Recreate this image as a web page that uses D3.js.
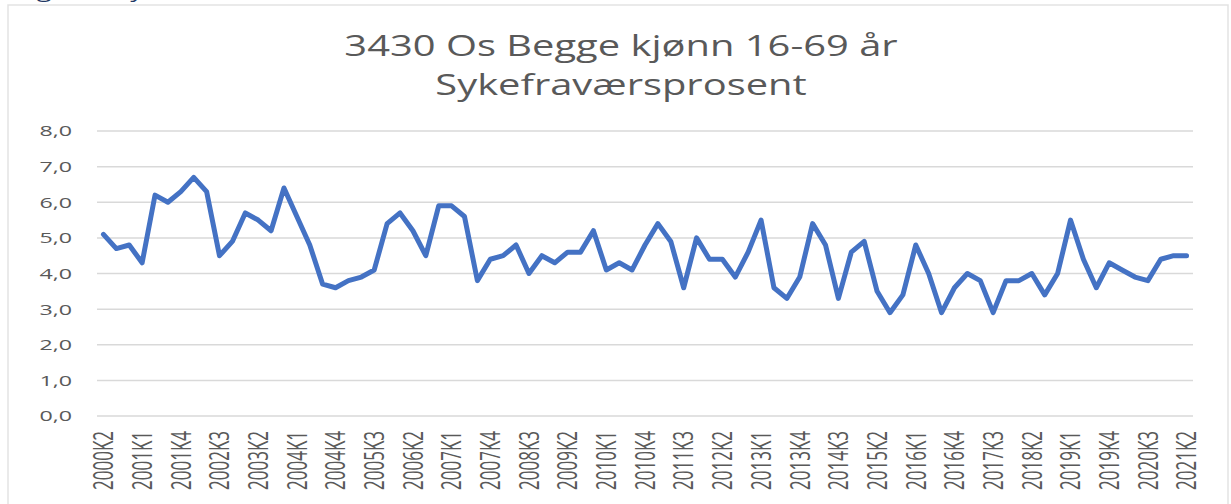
<!DOCTYPE html>
<html>
<head>
<meta charset="utf-8">
<script src="https://cdn.jsdelivr.net/npm/d3@7"></script>
<style>
  body { margin: 0; background: #fff; }
  svg { display: block; font-family: "Open Sans", sans-serif; }
</style>
</head>
<body>
<div id="chart"></div>
<script>
const quarters = [
    "2000K2", "2000K3", "2000K4",
    "2001K1", "2001K2", "2001K3", "2001K4",
    "2002K1", "2002K2", "2002K3", "2002K4",
    "2003K1", "2003K2", "2003K3", "2003K4",
    "2004K1", "2004K2", "2004K3", "2004K4",
    "2005K1", "2005K2", "2005K3", "2005K4",
    "2006K1", "2006K2", "2006K3", "2006K4",
    "2007K1", "2007K2", "2007K3", "2007K4",
    "2008K1", "2008K2", "2008K3", "2008K4",
    "2009K1", "2009K2", "2009K3", "2009K4",
    "2010K1", "2010K2", "2010K3", "2010K4",
    "2011K1", "2011K2", "2011K3", "2011K4",
    "2012K1", "2012K2", "2012K3", "2012K4",
    "2013K1", "2013K2", "2013K3", "2013K4",
    "2014K1", "2014K2", "2014K3", "2014K4",
    "2015K1", "2015K2", "2015K3", "2015K4",
    "2016K1", "2016K2", "2016K3", "2016K4",
    "2017K1", "2017K2", "2017K3", "2017K4",
    "2018K1", "2018K2", "2018K3", "2018K4",
    "2019K1", "2019K2", "2019K3", "2019K4",
    "2020K1", "2020K2", "2020K3", "2020K4",
    "2021K1", "2021K2"
];

// sykefraværsprosent per kvartal
const sickLeave = [
    5.1, 4.7, 4.8,
    4.3, 6.2, 6.0, 6.3,
    6.7, 6.3, 4.5, 4.9,
    5.7, 5.5, 5.2, 6.4,
    5.6, 4.8, 3.7, 3.6,
    3.8, 3.9, 4.1, 5.4,
    5.7, 5.2, 4.5, 5.9,
    5.9, 5.6, 3.8, 4.4,
    4.5, 4.8, 4.0, 4.5,
    4.3, 4.6, 4.6, 5.2,
    4.1, 4.3, 4.1, 4.8,
    5.4, 4.9, 3.6, 5.0,
    4.4, 4.4, 3.9, 4.6,
    5.5, 3.6, 3.3, 3.9,
    5.4, 4.8, 3.3, 4.6,
    4.9, 3.5, 2.9, 3.4,
    4.8, 4.0, 2.9, 3.6,
    4.0, 3.8, 2.9, 3.8,
    3.8, 4.0, 3.4, 4.0,
    5.5, 4.4, 3.6, 4.3,
    4.1, 3.9, 3.8, 4.4,
    4.5, 4.5
];

const tickLabels = [
    "2000K2", "2001K1", "2001K4", "2002K3", "2003K2", "2004K1", "2004K4",
    "2005K3", "2006K2", "2007K1", "2007K4", "2008K3", "2009K2", "2010K1",
    "2010K4", "2011K3", "2012K2", "2013K1", "2013K4", "2014K3", "2015K2",
    "2016K1", "2016K4", "2017K3", "2018K2", "2019K1", "2019K4", "2020K3",
    "2021K2"
];

const yTicks = [0, 1, 2, 3, 4, 5, 6, 7, 8];

const titleLines = ["3430 Os Begge kjønn 16-69 år", "Sykefraværsprosent"];

const width = 1231,
    height = 504,
    plot = { left: 97, right: 1193, top: 131, bottom: 416 },
    textColor = '#595959',
    gridColor = '#d9d9d9',
    stretch = 1.33; // the original picture is widened sideways

const svg = d3.select('#chart')
    .append('svg')
    .attr('width', width)
    .attr('height', height);

// chart frame
svg.append('rect')
    .attr('x', 8)
    .attr('y', 5)
    .attr('width', 1220)
    .attr('height', 520)
    .style('fill', 'none')
    .style('stroke', '#e3e3e3')
    .style('stroke-width', 1.5);

// caption cut off at the top, only the descenders show
svg.append('text')
    .attr('transform', 'translate(16,-2.5) scale(1.5,1)')
    .style('fill', '#1f3864')
    .style('font-size', '18px')
    .text('Figur 7: Sykefravær');

const x = d3.scalePoint()
    .domain(quarters)
    .range([plot.left, plot.right])
    .padding(0.5);

const y = d3.scaleLinear()
    .domain([0, 8])
    .range([plot.bottom, plot.top]);

// gridlines
svg.append('g')
    .selectAll('line')
    .data(yTicks)
    .enter()
    .append('line')
    .attr('x1', plot.left)
    .attr('x2', plot.right)
    .attr('y1', d => y(d))
    .attr('y2', d => y(d))
    .style('stroke', gridColor)
    .style('stroke-width', 1.5);

// y labels
svg.append('g')
    .selectAll('text')
    .data(yTicks)
    .enter()
    .append('text')
    .attr('transform', d => `translate(72,${y(d)}) scale(1.55,1)`)
    .attr('dy', '0.36em')
    .attr('text-anchor', 'end')
    .style('fill', textColor)
    .style('font-size', '15px')
    .text(d => d3.format('.1f')(d).replace('.', ','));

// x labels
svg.append('g')
    .selectAll('text')
    .data(tickLabels)
    .enter()
    .append('text')
    .attr('transform', d => `translate(${x(d)},431) scale(1.6,1) rotate(-90)`)
    .attr('dy', '0.36em')
    .attr('text-anchor', 'end')
    .style('fill', textColor)
    .style('font-size', '17px')
    .text(d => d);

// the series
const line = d3.line()
    .x((d, i) => x(quarters[i]))
    .y(d => y(d));

svg.append('path')
    .datum(sickLeave)
    .attr('d', line)
    .style('fill', 'none')
    .style('stroke', '#4472c4')
    .style('stroke-width', 5)
    .style('stroke-linejoin', 'round')
    .style('stroke-linecap', 'round');

// title
svg.append('g')
    .selectAll('text')
    .data(titleLines)
    .enter()
    .append('text')
    .attr('transform', (d, i) => `translate(621,${56 + i * 39}) scale(${stretch},1)`)
    .attr('text-anchor', 'middle')
    .style('fill', textColor)
    .style('font-size', '30px')
    .text(d => d);
</script>
</body>
</html>
